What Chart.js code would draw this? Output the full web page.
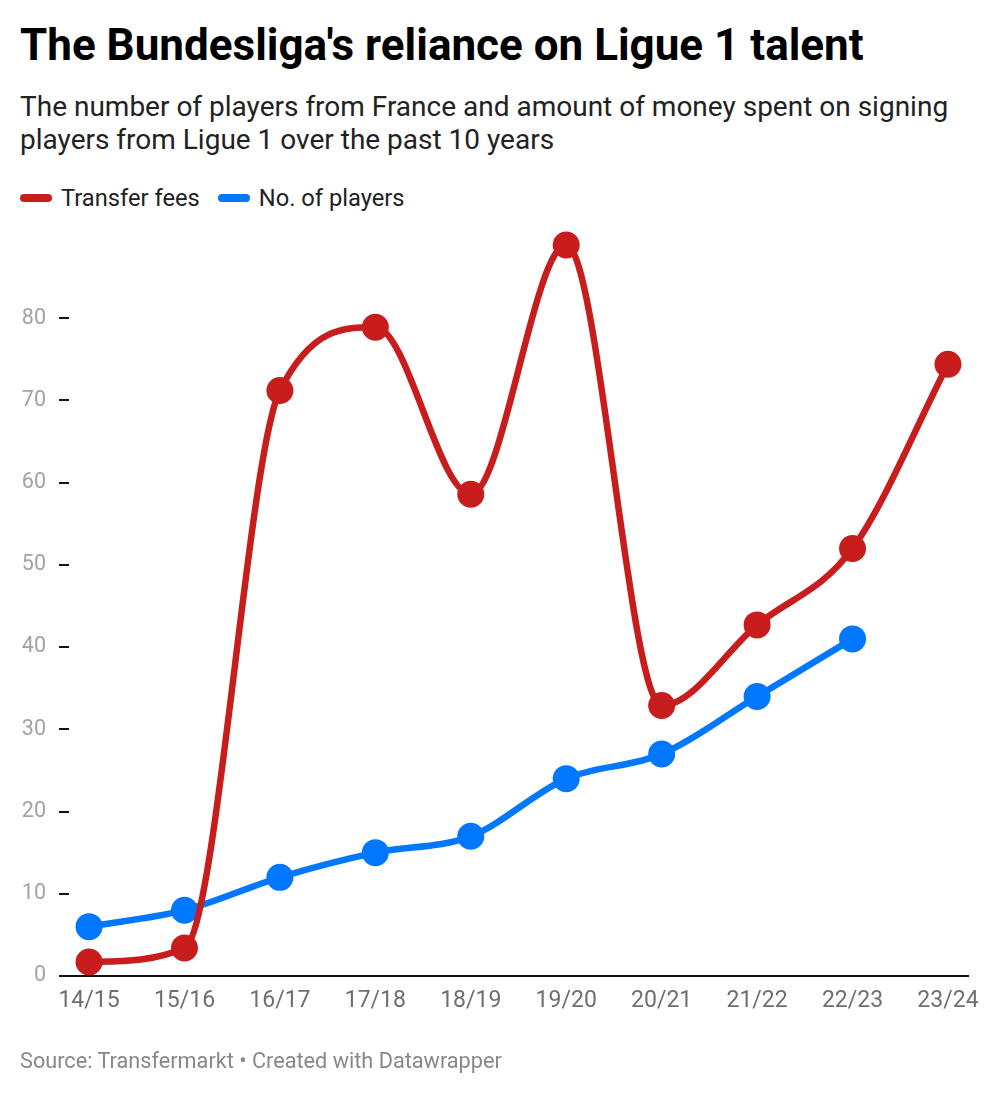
<!DOCTYPE html>
<html>
<head>
<meta charset="utf-8">
<script src="https://cdn.jsdelivr.net/npm/chart.js@4"></script>
<style>
  html, body { margin: 0; padding: 0; background: #fff; }
  body { width: 1004px; height: 1102px; position: relative; overflow: hidden; font-family: Roboto, "Noto Sans", sans-serif; }
  #title { position: absolute; left: 20px; top: 20px; line-height: 50px; font-size: 44px; font-weight: 700; color: #000; white-space: nowrap; }
  #subtitle { position: absolute; left: 20px; top: 90px; line-height: 33px; font-size: 28px; color: #222; width: 964px; }
  #legend { position: absolute; left: 20px; top: 184px; height: 28px; display: flex; align-items: center; font-size: 23.7px; color: #222; }
  .item { display: flex; align-items: center; margin-right: 18px; }
  .mark { width: 32px; height: 8px; border-radius: 4px; margin-right: 9px; }
  #footer { position: absolute; left: 20px; top: 1049px; line-height: 24px; font-size: 21.7px; color: #888; white-space: nowrap; }
  #wrap { position: absolute; left: 0; top: 220px; width: 1004px; height: 830px; }
</style>
</head>
<body>
<div id="title">The Bundesliga's reliance on Ligue 1 talent</div>
<div id="subtitle">The number of players from France and amount of money spent on signing players from Ligue 1 over the past 10 years</div>
<div id="legend">
  <div class="item"><div class="mark" style="background:#c71e1d"></div><span>Transfer fees</span></div>
  <div class="item"><div class="mark" style="background:#0077ff"></div><span>No. of players</span></div>
</div>
<div id="wrap"><canvas id="c"></canvas></div>
<div id="footer">Source: Transfermarkt • Created with Datawrapper</div>
<script>
const categories = ["14/15","15/16","16/17","17/18","18/19","19/20","20/21","21/22","22/23","23/24"];
const transferFees = [1.7, 3.4, 71.2, 78.9, 58.6, 88.9, 32.9, 42.7, 52.0, 74.4];
const numPlayers = [6, 8, 12, 15, 17, 24, 27, 34, 41, null];
const yTicks = [0, 10, 20, 30, 40, 50, 60, 70, 80];

const RED = "#c71e1d";
const BLUE = "#0077ff";

function toPoints(arr) {
  return arr.map((v, i) => ({ x: i, y: v }));
}

function lineStyle(color) {
  return {
    borderColor: color,
    backgroundColor: color,
    pointBackgroundColor: color,
    pointBorderWidth: 0,
    pointRadius: 13.5,
    pointHoverRadius: 13.5,
    borderWidth: 6.5,
    cubicInterpolationMode: "monotone",
    clip: false
  };
}

new Chart(document.getElementById("c"), {
  type: "line",
  data: {
    datasets: [
      Object.assign({ label: "Transfer fees", data: toPoints(transferFees) }, lineStyle(RED)),
      Object.assign({ label: "No. of players", data: toPoints(numPlayers) }, lineStyle(BLUE))
    ]
  },
  options: {
    responsive: true,
    maintainAspectRatio: false,
    animation: false,
    layout: { padding: { top: 16, left: 0, right: 36, bottom: 24 } },
    plugins: { legend: { display: false }, tooltip: { enabled: false } },
    scales: {
      x: {
        type: "linear",
        min: -0.21,
        max: 9.21,
        afterBuildTicks: (axis) => { axis.ticks = categories.map((_, i) => ({ value: i })); },
        afterFit: (axis) => { axis.height = 50; axis.paddingLeft = 0; axis.paddingRight = 0; },
        grid: { display: false, drawTicks: false },
        border: { display: true, color: "#111", width: 2 },
        ticks: {
          callback: (v) => categories[v],
          color: "#6f6f6f",
          font: { family: "Roboto", size: 23 },
          padding: 11,
          maxRotation: 0,
          autoSkip: false
        }
      },
      y: {
        min: 0,
        max: 90,
        afterBuildTicks: (axis) => { axis.ticks = yTicks.map(v => ({ value: v })); },
        afterFit: (axis) => { axis.width = 69; axis.paddingTop = 0; axis.paddingBottom = 0; },
        grid: { drawOnChartArea: false, drawTicks: true, tickLength: 10, color: "#111", lineWidth: 2 },
        border: { display: false },
        ticks: {
          color: "#a3a3a3",
          font: { family: "Roboto", size: 21.5 },
          padding: 13
        }
      }
    }
  }
});
</script>
</body>
</html>
